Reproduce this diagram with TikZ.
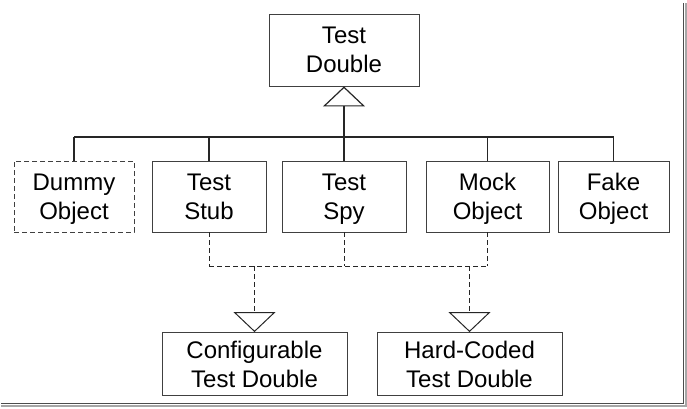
\documentclass[tikz,border=0pt]{standalone}
\usepackage{fontspec}
\setmainfont{Liberation Sans}
\usepackage{tikz}
\usetikzlibrary{arrows.meta}
\usepackage{xcolor}

\begin{document}
\begin{tikzpicture}[x=1pt, y=1pt,
    box/.style={draw=black!75, line width=0.9pt, align=center, inner sep=0pt,
      minimum height=71pt, font=\fontsize{24}{29}\selectfont, text depth=0pt},
    dashbox/.style={box, dashed, dash pattern=on 5pt off 3pt},
    lowbox/.style={box, minimum width=185pt, minimum height=63pt},
    link/.style={draw=black!85, line width=1.2pt},
    dlink/.style={draw=black!85, line width=1pt, dash pattern=on 5pt off 3pt},
    hollow/.style={-{Triangle[width=42pt, length=20pt, fill=white]}}]
  \useasboundingbox (0,0) rectangle (687,408);

  \node[box, minimum width=150pt, minimum height=72pt] (td) at (344,358) {Test\\Double};

  \node[dashbox, minimum width=120pt] (dummy) at (74,211.5) {Dummy\\Object};
  \node[box, minimum width=114pt] (stub) at (209,211.5) {Test\\Stub};
  \node[box, minimum width=124pt] (spy) at (344,211.5) {Test\\Spy};
  \node[box, minimum width=123pt] (mock) at (487.5,211.5) {Mock\\Object};
  \node[box, minimum width=111pt] (fake) at (613.5,211.5) {Fake\\Object};

  \node[lowbox] (conf) at (254.5,44) {Configurable\\Test Double};
  \node[lowbox] (hard) at (469.5,44) {Hard-Coded\\Test Double};

  % generalisation to Test Double
  \coordinate (bus) at (344,271);
  \foreach \n in {dummy,stub,spy,mock,fake}
    \draw[link] (\n.north) -- (\n.north |- bus);
  \draw[link] (dummy.north |- bus) -- (fake.north |- bus);
  \draw[link, hollow] (bus) -- (td.south);

  % dashed links to the lower pair
  \coordinate (dbus) at (344,142);
  \foreach \n in {stub,spy,mock}
    \draw[dlink] (\n.south) -- (\n.south |- dbus);
  \draw[dlink] (stub.south |- dbus) -- (mock.south |- dbus);
  \draw[dlink, hollow] (conf.north |- dbus) -- (conf.north);
  \draw[dlink, hollow] (hard.north |- dbus) -- (hard.north);

  % frame shadow
  \draw[black!70, line width=1pt] (1,4.5) -- (683.5,4.5) -- (683.5,405);
  \draw[black!35, line width=2pt] (1,2.5) -- (685.5,2.5) -- (685.5,405);
\end{tikzpicture}
\end{document}
